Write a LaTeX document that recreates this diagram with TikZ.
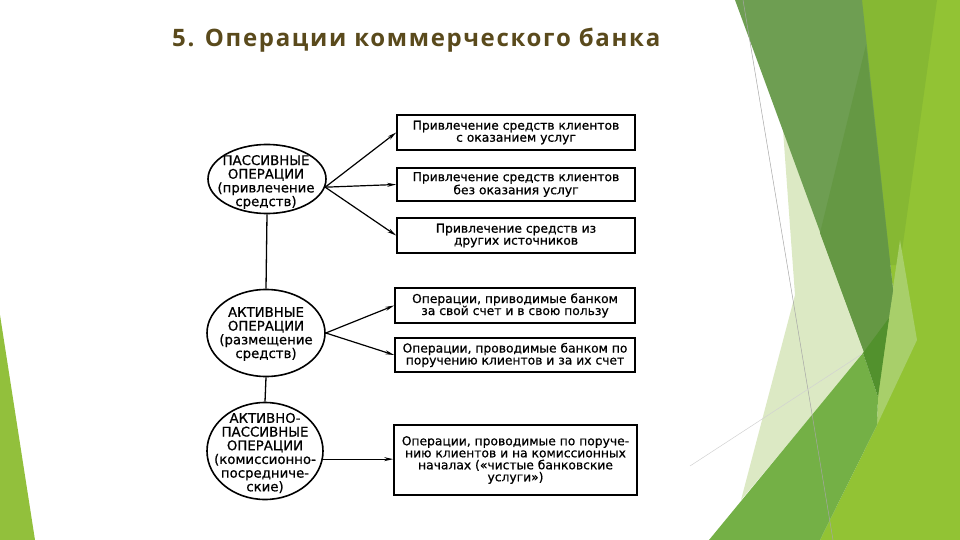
\documentclass[tikz,border=0pt]{standalone}
\usepackage{fontspec}
\setmainfont{DejaVu Sans}[FakeBold=0.7]
\newfontfamily\titlefont[LetterSpace=7]{Open Sans}
\usetikzlibrary{shapes.geometric,arrows.meta}
\definecolor{gDark}{RGB}{110,158,82}
\definecolor{gDarker}{RGB}{101,152,68}
\definecolor{gTop}{RGB}{134,184,51}
\definecolor{gBright}{RGB}{146,195,52}
\definecolor{gMed}{RGB}{116,176,70}
\definecolor{gPale}{RGB}{220,233,196}
\definecolor{gPale2}{RGB}{168,207,106}
\definecolor{gDeep}{RGB}{82,145,45}
\definecolor{gLeft}{RGB}{146,192,60}
\definecolor{titlecol}{RGB}{90,74,28}
\begin{document}
\begin{tikzpicture}[x=1pt,y=-1pt,
  box/.style={draw, line width=1.6pt, minimum width=238pt, minimum height=35pt,
    inner sep=0pt, align=center, font=\fontsize{12.3}{12}\selectfont},
  ell/.style={draw, ellipse, line width=1.6pt, inner sep=0pt},
  elltxt/.style={align=center, inner sep=0pt, font=\fontsize{13.3}{13.7}\selectfont},
  arr/.style={line width=1.2pt, -{Stealth[length=9pt,width=4pt]}},
  link/.style={line width=1.3pt}]
\useasboundingbox (0,0) rectangle (960,540);
\fill[white] (0,0) rectangle (960,540);
% decoration
\fill[gLeft] (0,315) -- (0,540) -- (35,540) -- cycle;
\fill[gBright] (862,0) -- (960,0) -- (960,540) -- (820,540) -- (877,425) -- (893,290) -- cycle;
\fill[gTop] (850,0) -- (937,0) -- (900,265) -- (885,265) -- cycle;
\fill[gPale2] (900,240) -- (917,340) -- (877,425) -- (878,390) -- cycle;
\fill[gPale] (783,130) -- (865,352) -- (741,500) -- (795,295) -- cycle;
\fill[gMed] (709,540) -- (863,353) -- (878,397) -- (877,425) -- (820,540) -- cycle;
\fill[gDark] (735,0) -- (862,0) -- (893,290) -- (878,390) -- cycle;
\fill[gDarker] (866,45) -- (893,290) -- (878,390) -- (820,233) -- cycle;
\fill[gDeep] (863,353) -- (889,318) -- (878,397) -- cycle;
\draw[gray!70, line width=0.5pt] (743,0) -- (833,540);
\draw[gray!35, line width=0.5pt] (690,466) -- (862,354);
% title
\node[anchor=base west, inner sep=0pt, text=titlecol, font=\titlefont\bfseries\fontsize{24}{24}\selectfont] (title) at (172,47) {5. Операции коммерческого банка};
% ellipses
\node[ell, minimum width=118pt, minimum height=69pt] (p) at (267,179) {};
\node[elltxt] (pt) at (266,182) {ПАССИВНЫЕ\\ОПЕРАЦИИ\\(привлечение\\средств)};
\node[ell, minimum width=118pt, minimum height=87pt] (a) at (266,333) {};
\node[elltxt] (at) at (266,334) {АКТИВНЫЕ\\ОПЕРАЦИИ\\(размещение\\средств)};
\node[ell, minimum width=116pt, minimum height=97pt] (ap) at (265,451) {};
\node[elltxt] (apt) at (265,453) {АКТИВНО-\\ПАССИВНЫЕ\\ОПЕРАЦИИ\\(комиссионно-\\посредниче-\\ские)};
% boxes
\node[box] (b1) at (516,132.5) {Привлечение средств клиентов\\с оказанием услуг};
\node[box, minimum height=33pt] (b2) at (516,184.5) {Привлечение средств клиентов\\без оказания услуг};
\node[box] (b3) at (516,235.5) {Привлечение средств из\\других источников};
\node[box, minimum width=240pt] (b4) at (515,305.5) {Операции, приводимые банком\\за свой счет и в свою пользу};
\node[box, minimum width=240pt, minimum height=34pt] (b5) at (515,355) {Операции, проводимые банком по\\поручению клиентов и за их счет};
\node[box, minimum width=243pt, minimum height=70pt] (b6) at (515.5,460) {Операции, проводимые по поруче-\\нию клиентов и на комиссионных\\началах («чистые банковские\\услуги»)};
% connectors
\draw[link] (p.south) -- (a.north);
\draw[link] (a.south) -- (ap.north);
\draw[arr] (p.-8) -- (b1.west);
\draw[arr] (p.-8) -- (b2.west);
\draw[arr] (p.-8) -- (b3.west);
\draw[arr] (a.east) -- (b4.west);
\draw[arr] (a.east) -- (b5.west);
\draw[arr] (ap.-8) -- (ap.-8 -| b6.west);
\end{tikzpicture}
\end{document}
